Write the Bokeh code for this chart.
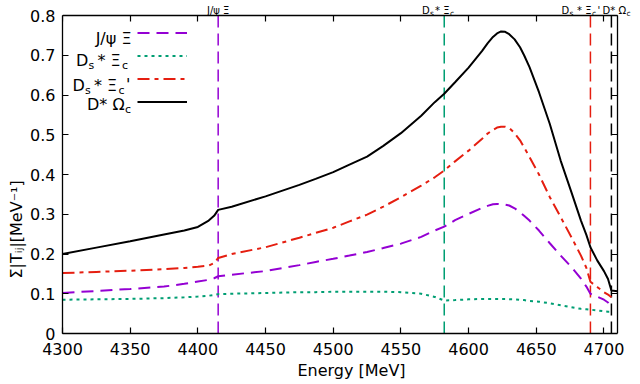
from bokeh.plotting import figure
from bokeh.models import (Label, Legend, LegendItem, LinearAxis, FixedTicker,
                          CustomJSTickFormatter, Range1d, Title)
from bokeh.embed import file_html
from bokeh.resources import INLINE

# ---------------- data ----------------
energy = [4300, 4325, 4350, 4375, 4390, 4400, 4408, 4412, 4415, 4425, 4450, 4475, 4487, 4500,
          4512, 4525, 4537, 4550, 4565, 4575, 4582, 4590, 4600, 4610, 4614, 4618, 4621,
          4624, 4627, 4630, 4634, 4638, 4641, 4645, 4652, 4660, 4668, 4676, 4683, 4687,
          4690, 4695, 4700, 4703, 4705.5]
energy_d_omega = energy + [4710]

j_psi_xi = [0.102, 0.107, 0.112, 0.118, 0.125, 0.131, 0.135, 0.139, 0.144, 0.148, 0.157, 0.172, 0.180, 0.188,
            0.196, 0.205, 0.215, 0.226, 0.243, 0.259, 0.269, 0.285, 0.301, 0.316, 0.321, 0.325, 0.326,
            0.325, 0.324, 0.322, 0.315, 0.305, 0.296, 0.284, 0.259, 0.227, 0.196, 0.167, 0.138, 0.118,
            0.100, 0.093, 0.085, 0.078, 0.066]
ds_xi_c = [0.085, 0.086, 0.087, 0.089, 0.091, 0.093, 0.095, 0.097, 0.099, 0.100, 0.102, 0.104, 0.104, 0.105,
           0.105, 0.105, 0.105, 0.104, 0.100, 0.092, 0.083, 0.084, 0.086, 0.087, 0.087, 0.087, 0.087,
           0.087, 0.087, 0.086, 0.086, 0.085, 0.084, 0.082, 0.080, 0.076, 0.071, 0.066, 0.062, 0.061,
           0.060, 0.058, 0.056, 0.055, 0.055]
ds_xi_cp = [0.152, 0.155, 0.158, 0.162, 0.165, 0.168, 0.171, 0.177, 0.190, 0.200, 0.217, 0.241, 0.253, 0.266,
            0.282, 0.299, 0.319, 0.343, 0.372, 0.393, 0.410, 0.433, 0.460, 0.490, 0.503, 0.512, 0.518,
            0.520, 0.520, 0.517, 0.504, 0.486, 0.468, 0.444, 0.400, 0.343, 0.293, 0.242, 0.196, 0.165,
            0.130, 0.117, 0.104, 0.098, 0.091]
d_omega_c = [0.200, 0.216, 0.232, 0.249, 0.259, 0.268, 0.284, 0.296, 0.311, 0.319, 0.345, 0.374, 0.389, 0.406,
             0.425, 0.445, 0.472, 0.504, 0.548, 0.582, 0.603, 0.632, 0.669, 0.711, 0.730, 0.746, 0.755,
             0.760, 0.759, 0.753, 0.740, 0.720, 0.700, 0.670, 0.607, 0.527, 0.435, 0.355, 0.284, 0.248,
             0.217, 0.184, 0.157, 0.137, 0.108, 0.106]

thresholds = [4415, 4582, 4690, 4705.5]
x_ticks = [4300, 4350, 4400, 4450, 4500, 4550, 4600, 4650, 4700]
y_ticks = [0, 0.1, 0.2, 0.3, 0.4, 0.5, 0.6, 0.7, 0.8]
y_tick_labels = ["0", "0.1", "0.2", "0.3", "0.4", "0.5", "0.6", "0.7", "0.8"]

# ---------------- styles / layout ----------------
PURPLE = "#9400D3"
TEAL = "#009E73"
RED = "#E51E10"
BLACK = "#000000"
FONT = "DejaVu Sans"

X0, X1 = 4300, 4710
Y0, Y1 = 0, 0.8
W, H = 640, 384
BOX_L, BOX_R, BOX_T, BOX_B = 62, 617, 15, 333     # the drawn plot box on the canvas
PX_X = (BOX_R - BOX_L) / (X1 - X0)
PX_Y = (BOX_B - BOX_T) / (Y1 - Y0)

# the bokeh frame reaches the canvas top and right edge, so that the names above
# the box and the right-most name are not clipped
x_range = Range1d(X0, X1 + (W - BOX_R) / PX_X)
y_range = Range1d(Y0, Y1 + BOX_T / PX_Y)

p = figure(width=W, height=H, x_range=x_range, y_range=y_range,
           output_backend="svg", toolbar_location=None,
           min_border_left=BOX_L, min_border_right=0, min_border_top=0,
           min_border_bottom=H - BOX_B)
p.xgrid.visible = False
p.ygrid.visible = False
p.outline_line_color = None
p.background_fill_color = "white"
p.border_fill_color = "white"


def style_axis(ax, labels=True):
    ax.axis_line_color = "black"
    ax.axis_line_width = 1.3
    ax.major_tick_in = 6
    ax.major_tick_out = 0
    ax.minor_tick_in = 0
    ax.minor_tick_out = 0
    ax.major_tick_line_width = 1.2
    ax.major_tick_line_color = "black"
    ax.major_label_text_font = FONT
    ax.major_label_text_font_size = "16px"
    ax.major_label_text_color = "black"
    if not labels:
        ax.formatter = CustomJSTickFormatter(code="return ''")
        ax.major_label_standoff = 0
        ax.major_label_text_font_size = "0px"


xa = p.xaxis[0]
xa.ticker = FixedTicker(ticks=x_ticks)
xa.bounds = (X0, X1)
style_axis(xa)
xa.major_label_standoff = 9

ya = p.yaxis[0]
ya.ticker = FixedTicker(ticks=y_ticks)
ya.bounds = (Y0, Y1)
ya.major_label_overrides = {t: s for t, s in zip(y_ticks, y_tick_labels)}
style_axis(ya)
ya.major_label_standoff = 7

# mirrored axes on the top and right edges of the box
top_ax = LinearAxis(ticker=FixedTicker(ticks=x_ticks), fixed_location=Y1, bounds=(X0, X1))
style_axis(top_ax, labels=False)
p.add_layout(top_ax, "above")
right_ax = LinearAxis(ticker=FixedTicker(ticks=y_ticks), fixed_location=X1, bounds=(Y0, Y1))
style_axis(right_ax, labels=False)
p.add_layout(right_ax, "right")

# axis titles
p.add_layout(Title(text="Energy [MeV]", align="center", offset=-9, standoff=3,
                   text_font=FONT, text_font_size="16px", text_font_style="normal",
                   text_color="black"), "below")
p.add_layout(Title(text="Σ|Tᵢⱼ|[MeV⁻¹]", align="left", offset=55, standoff=4,
                   text_font=FONT, text_font_size="16px", text_font_style="normal",
                   text_color="black"), "left")

# threshold lines
th_colors = [PURPLE, TEAL, RED, BLACK]
p.segment(x0=thresholds, y0=[Y0] * len(thresholds), x1=thresholds, y1=[Y1] * len(thresholds),
          line_color=th_colors, line_dash="12 6", line_width=1.5)

# curves
r1 = p.line(energy, j_psi_xi, line_color=PURPLE, line_width=2, line_dash="12 7")
r2 = p.line(energy, ds_xi_c, line_color=TEAL, line_width=2, line_dash="3 4")
r3 = p.line(energy, ds_xi_cp, line_color=RED, line_width=2, line_dash="12 5 4 5")
r4 = p.line(energy_d_omega, d_omega_c, line_color=BLACK, line_width=2)

# legend samples (texts drawn separately to the left of the samples)
legend = Legend(items=[LegendItem(label=" ", renderers=[r]) for r in (r1, r2, r3, r4)],
                location=(137 - BOX_L, BOX_B - 112), orientation="vertical",
                glyph_width=50, glyph_height=21, label_height=21, label_width=0,
                label_standoff=0, spacing=2, padding=0, margin=0,
                label_text_font_size="1px",
                border_line_alpha=0, background_fill_alpha=0)
p.add_layout(legend)


def piece(text, cx, cy, size, align="left", x_data=None):
    """Place a text piece at canvas position (cx, baseline cy), anchored on the box corner."""
    p.add_layout(Label(x=X0 if x_data is None else x_data, y=Y1,
                       x_offset=(cx - BOX_L) if x_data is None else 0,
                       y_offset=BOX_T - cy,
                       text=text, text_font=FONT, text_font_size=f"{size}px",
                       text_color="black", text_align=align, text_baseline="alphabetic"))


# legend texts (main 16px, subscripts 11px)
piece("J/ψ Ξ", 131, 37.5, 16, align="right")
piece("D", 75.5, 59.5, 16)
piece("s", 88, 64.5, 11)
piece("* Ξ", 97, 59.5, 16)
piece("c", 121.5, 64.5, 11)
piece("D", 72, 85, 16)
piece("s", 84.5, 90, 11)
piece("* Ξ", 93.5, 85, 16)
piece("c", 118, 90, 11)
piece("'", 125.5, 84, 16)
piece("D* Ω", 86.5, 103.5, 16)
piece("c", 124.5, 108.5, 11)

# threshold names above the box (main 10px, subscripts 7.5px)
TB = 9.5
MS, SS = 10, 7.5
piece("J/ψ Ξ", 0, TB, MS, align="center", x_data=thresholds[0])
piece("D", 421.5, TB, MS)
piece("s", 429.5, TB + 3, SS)
piece("* Ξ", 434.5, TB, MS)
piece("c", 449.5, TB + 3, SS)
piece("D", 561, TB, MS)
piece("s", 569, TB + 3, SS)
piece("* Ξ", 576.5, TB, MS)
piece("c", 591.5, TB + 3, SS)
piece("'", 597, TB, MS)
piece("D* Ω", 602, TB, MS)
piece("c", 626, TB + 3, SS)

open("out.html", "w").write(file_html(p, INLINE))
